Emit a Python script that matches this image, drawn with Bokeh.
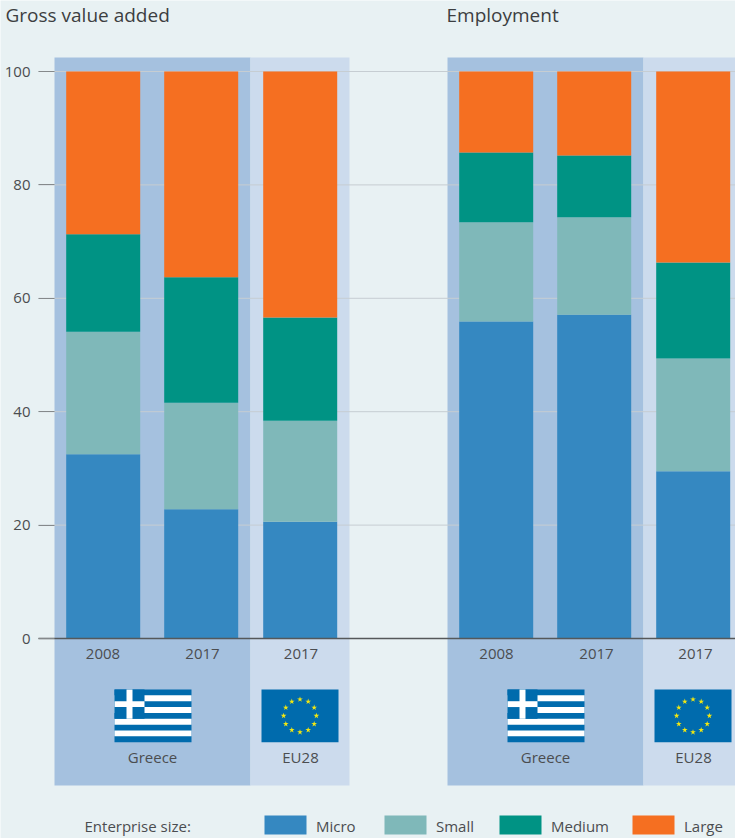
from bokeh.embed import file_html
from bokeh.resources import INLINE
from bokeh.plotting import figure
from bokeh.models import ColumnDataSource, FixedTicker, Label, Range1d
from bokeh.core.properties import value

# ---- data -------------------------------------------------------------
panels = ["Gross value added", "Employment"]
years = ["2008", "2017", "2017"]
regions = ["Greece", "EU28"]
sizes = ["Micro", "Small", "Medium", "Large"]
yticks = [0, 20, 40, 60, 80, 100]

gva_micro = [32.5, 22.8, 20.6]
gva_small = [21.6, 18.8, 17.8]
gva_medium = [17.2, 22.1, 18.2]
gva_large = [28.7, 36.3, 43.4]

emp_micro = [55.9, 57.1, 29.5]
emp_small = [17.5, 17.2, 19.9]
emp_medium = [12.3, 10.9, 16.9]
emp_large = [14.3, 14.8, 33.7]

# ---- style ------------------------------------------------------------
BG = "#e8f1f3"
GREECE_BG = "#a5c1df"
EU_BG = "#ccdbed"
COLORS = ["#3588c1", "#7fb8b9", "#009384", "#f56f21"]
FLAG_BLUE = "#006bad"
STAR = "#f2e711"
TEXT = "#4b4d50"
FONT = "Open Sans"

W, H = 735, 838


def ry(px):
    """Vertical position in the reference's pixels -> value on the 0-100 scale."""
    return (638 - px) / 5.67


p = figure(
    width=W, height=H, output_backend="svg", toolbar_location=None,
    x_range=Range1d(0.0, 735.0), y_range=Range1d(ry(838), ry(0)),
    background_fill_color=BG, border_fill_color=BG, outline_line_color=None,
    min_border_left=0, min_border_right=0,
    min_border_top=0, min_border_bottom=0,
)
p.xaxis.visible = False
p.xgrid.visible = False
p.ygrid.visible = False

ax = p.yaxis[0]
ax.fixed_location = 38
ax.ticker = FixedTicker(ticks=yticks)
ax.axis_line_color = None
ax.major_tick_in = 16
ax.major_tick_out = 0
ax.minor_tick_line_color = None
ax.major_tick_line_color = "#85898b"
ax.major_tick_line_width = 1
ax.major_label_standoff = 8
ax.major_label_text_font = FONT
ax.major_label_text_font_size = "15px"
ax.major_label_text_color = TEXT

# ---- panels, bars, labels --------------------------------------------
offsets = [0, 393]
series = [
    [gva_micro, gva_small, gva_medium, gva_large],
    [emp_micro, emp_small, emp_medium, emp_large],
]
year_x = [[102.5, 202, 300.5], [496, 596, 695]]
title_x = [5, 446]

for off, vals in zip(offsets, series):
    p.quad(left=[54 + off, 250 + off], right=[250 + off, 349 + off],
           bottom=ry(785), top=ry(57), color=[GREECE_BG, EU_BG], line_color=None)

# gridlines stop at the tick marks, and run above the shaded panels but below the bars
p.segment(x0=38, x1=735, y0=yticks[1:], y1=yticks[1:], line_color="#c6cdd2", line_width=1)

for off, vals, yx in zip(offsets, series, year_x):
    centers = [102.7 + off, 200.7 + off, 299.7 + off]
    src = ColumnDataSource(dict(x=centers, **dict(zip(sizes, vals))))
    p.vbar_stack(sizes, x="x", width=74, source=src, color=COLORS, line_color=None)

    p.text(x=yx, y=[ry(653.5)] * 3, text=years, text_align="center",
           text_baseline="middle", text_font=value(FONT), text_font_size="15px",
           text_color=TEXT)
    p.text(x=[152 + off, 300 + off], y=[ry(756.5)] * 2, text=regions, text_align="center",
           text_baseline="middle", text_font=value(FONT), text_font_size="15px",
           text_color=TEXT)

    # Greek flag
    fx0, fx1 = 114 + off, 191 + off
    fy0, fy1 = 689.0, 741.7
    step = (fy1 - fy0) / 9
    p.quad(left=fx0, right=fx1, top=ry(fy0), bottom=ry(fy1), color=FLAG_BLUE, line_color=None)
    for i in range(1, 9, 2):
        p.quad(left=fx0, right=fx1, top=ry(fy0 + i * step), bottom=ry(fy0 + (i + 1) * step),
               color="white", line_color=None)
    p.quad(left=fx0, right=fx0 + 30, top=ry(fy0), bottom=ry(fy0 + 5 * step),
           color=FLAG_BLUE, line_color=None)
    p.quad(left=fx0, right=fx0 + 30, top=ry(fy0 + 2 * step), bottom=ry(fy0 + 3 * step),
           color="white", line_color=None)
    p.quad(left=fx0 + 12, right=fx0 + 18, top=ry(fy0), bottom=ry(fy0 + 5 * step),
           color="white", line_color=None)

    # EU flag
    ex0, ex1 = 261 + off, 338 + off
    p.quad(left=ex0, right=ex1, top=ry(689), bottom=ry(741.7), color=FLAG_BLUE, line_color=None)
    star_x = [0, 8.2, 14.2, 16.4, 14.2, 8.2, 0, -8.2, -14.2, -16.4, -14.2, -8.2]
    star_y = [-16.4, -14.2, -8.2, 0, 8.2, 14.2, 16.4, 14.2, 8.2, 0, -8.2, -14.2]
    p.scatter(x=[(ex0 + ex1) / 2 + v for v in star_x], y=[ry(715.3 + v) for v in star_y],
              marker="star", size=6, color=STAR, line_color=None)

# baseline at zero, drawn above the bars
p.segment(x0=38, x1=735, y0=yticks[0], y1=yticks[0], line_color="#55585a", line_width=1.5)

for tx, name in zip(title_x, panels):
    p.add_layout(Label(x=tx, y=H - 14.5, x_units="screen", y_units="screen",
                       text=name, text_font=FONT, text_font_size="19px", text_color="#3c3e41",
                       text_baseline="middle"))

# ---- legend -----------------------------------------------------------
legend_left = [264, 384, 499, 632]
p.quad(left=legend_left, right=[v + 42 for v in legend_left], top=ry(815), bottom=ry(834),
       color=COLORS, line_color=None)
p.text(x=[v + 51.5 for v in legend_left], y=[ry(825)] * 4, text=sizes, text_baseline="middle",
       text_font=value(FONT), text_font_size="15px", text_color=TEXT)
p.text(x=[84], y=[ry(825)], text=["Enterprise size:"], text_baseline="middle",
       text_font=value(FONT), text_font_size="15px", text_color=TEXT)

open("out.html", "w").write(file_html(p, INLINE))
